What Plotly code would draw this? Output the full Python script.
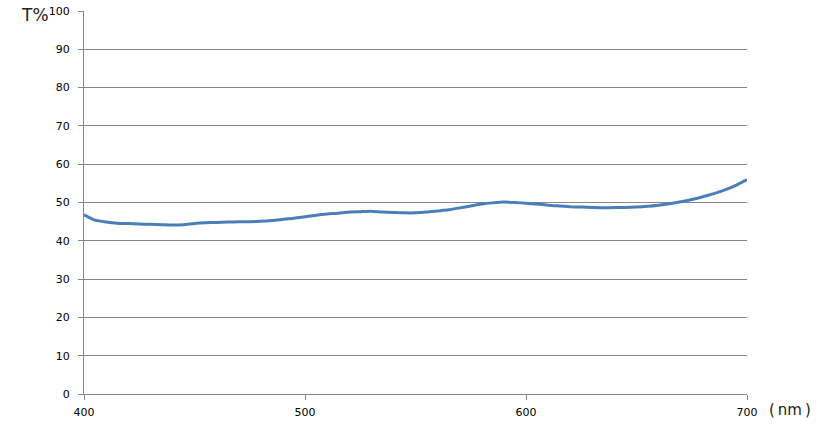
import plotly.graph_objects as go

wavelength = [400, 405, 410, 415, 420, 425, 430, 435, 440, 445, 450, 455, 460, 465, 470, 475, 480, 485, 490, 495,
              500, 505, 510, 515, 520, 525, 530, 535, 540, 545, 550, 555, 560, 565, 570, 575, 580, 585, 590, 595,
              600, 605, 610, 615, 620, 625, 630, 635, 640, 645, 650, 655, 660, 665, 670, 675, 680, 685, 690, 695, 700]
transmittance = [46.8, 45.4, 44.9, 44.6, 44.5, 44.4, 44.3, 44.2, 44.1, 44.2, 44.5, 44.7, 44.8, 44.9, 45.0, 45.0, 45.1, 45.3, 45.6, 45.9,
                 46.3, 46.7, 47.0, 47.2, 47.5, 47.6, 47.7, 47.5, 47.4, 47.3, 47.3, 47.5, 47.8, 48.1, 48.6, 49.1, 49.6, 49.9, 50.1, 50.0,
                 49.8, 49.6, 49.3, 49.1, 48.9, 48.8, 48.7, 48.6, 48.7, 48.7, 48.8, 49.0, 49.3, 49.7, 50.2, 50.8, 51.5, 52.3, 53.3, 54.5, 56.0]

x_ticks = [400, 500, 600, 700]
y_ticks = [0, 10, 20, 30, 40, 50, 60, 70, 80, 90, 100]

fig = go.Figure()
fig.add_trace(go.Scatter(x=wavelength, y=transmittance, mode="lines",
                         line=dict(color="#4a7ebb", width=3, shape="spline", smoothing=0.6),
                         showlegend=False, hoverinfo="skip"))

grid_color = "#868686"
fig.update_layout(
    width=827, height=434,
    margin=dict(l=84, r=80, t=11, b=40, autoexpand=False),
    paper_bgcolor="white", plot_bgcolor="white",
    font=dict(family="DejaVu Sans, Verdana, sans-serif", size=11, color="black"),
    xaxis=dict(range=[400, 700], tickvals=x_ticks, showgrid=False, zeroline=False,
               showline=True, linecolor=grid_color, linewidth=1,
               ticks="outside", ticklen=5, tickcolor=grid_color, ticklabelstandoff=3),
    yaxis=dict(range=[0, 100], tickvals=y_ticks, showgrid=True, gridcolor=grid_color, gridwidth=1,
               zeroline=False, showline=True, linecolor=grid_color, linewidth=1,
               ticks="outside", ticklen=5, tickcolor=grid_color, ticklabelstandoff=6),
    annotations=[
        dict(text="T%", xref="paper", yref="paper", x=-0.074, y=0.99, xanchor="center", yanchor="middle",
             showarrow=False, font=dict(size=17, color="#222")),
        dict(text="(\u2009nm\u2009)", xref="paper", yref="paper", x=1.03, y=-0.043, xanchor="left", yanchor="middle",
             showarrow=False, font=dict(size=15, color="#222")),
    ],
)

fig.write_html("out.html", config={"displayModeBar": False},
               post_script="document.body.style.margin='0';")
